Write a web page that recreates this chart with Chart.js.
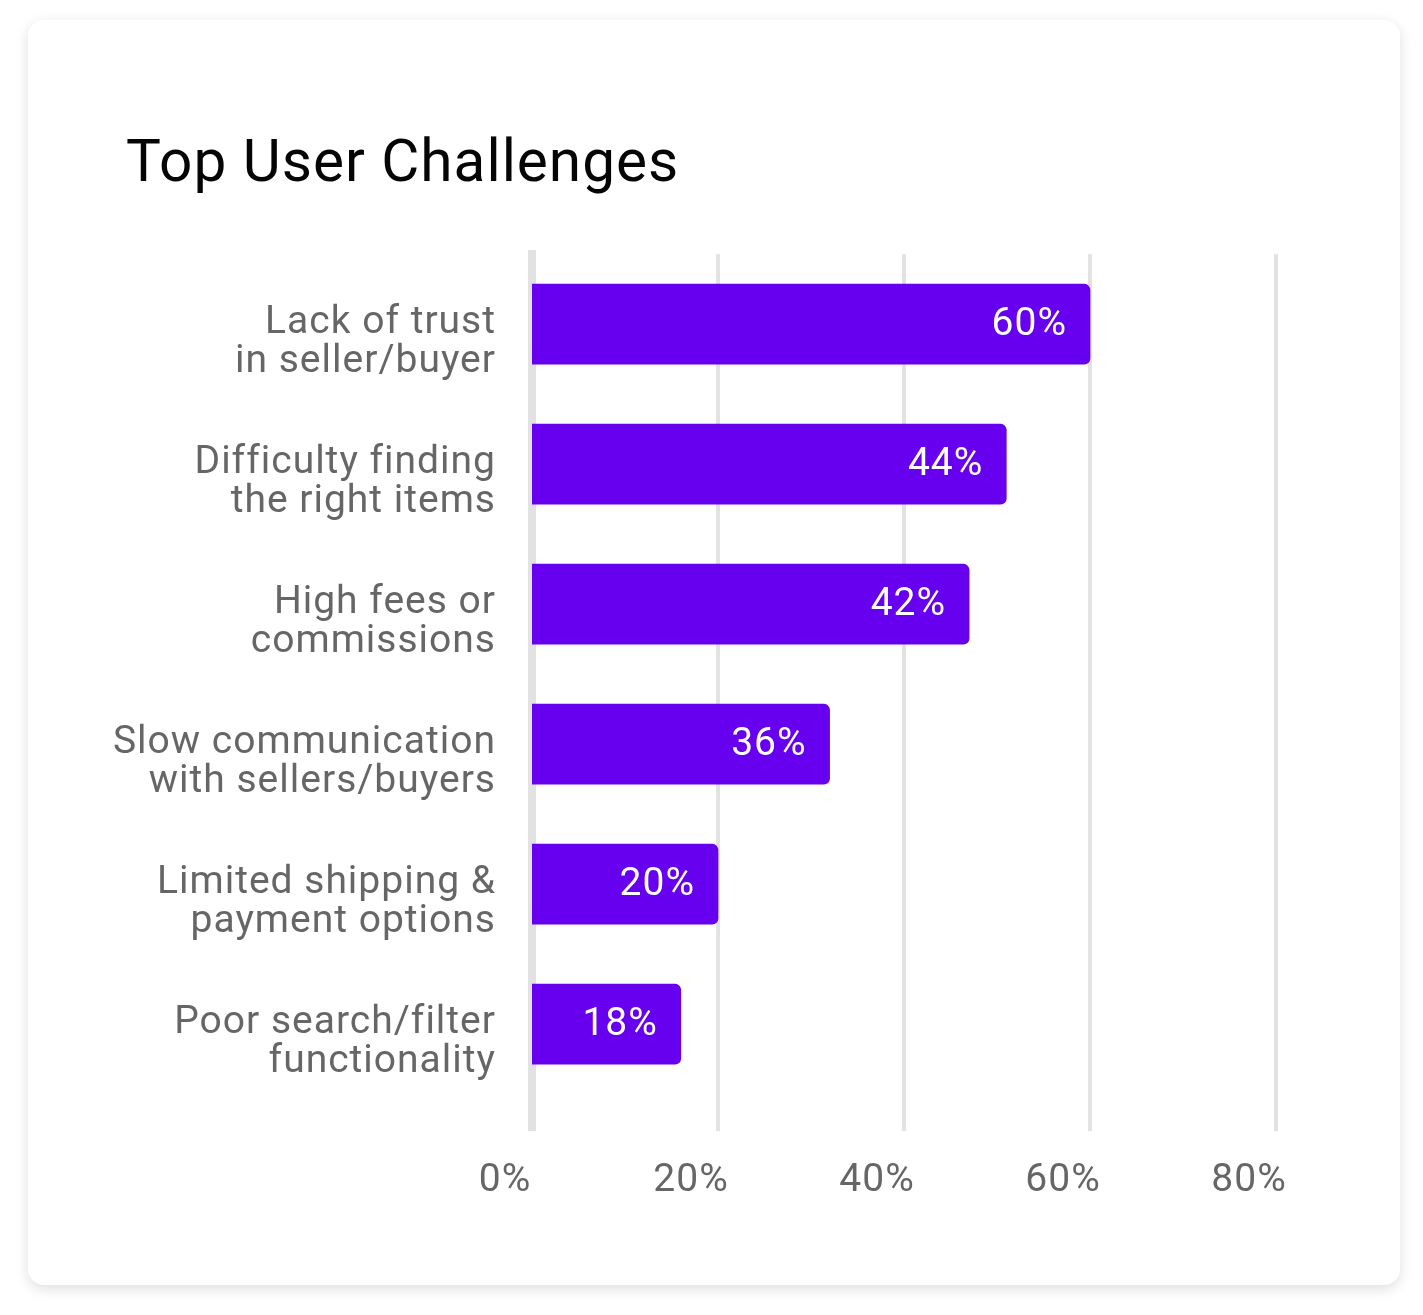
<!DOCTYPE html>
<html>
<head>
<meta charset="utf-8">
<script src="https://cdn.jsdelivr.net/npm/chart.js@4.4.1/dist/chart.umd.min.js"></script>
<style>
  html, body { margin: 0; padding: 0; background: #ffffff; }
  body { width: 1423px; height: 1315px; position: relative; overflow: hidden; }
  #card {
    position: absolute; left: 28px; top: 20px; width: 1372px; height: 1265px;
    background: #ffffff; border-radius: 16px;
    box-shadow: 0 4px 14px rgba(0,0,0,0.13);
  }
  #wrap { position: absolute; left: 0; top: 0; width: 1372px; height: 1265px; }
</style>
</head>
<body>
<div id="card"><div id="wrap"><canvas id="chart"></canvas></div></div>
<script>
const titleText = 'Top User Challenges';
const categories = [
  ['Lack of trust', 'in seller/buyer'],
  ['Difficulty finding', 'the right items'],
  ['High fees or', 'commissions'],
  ['Slow communication', 'with sellers/buyers'],
  ['Limited shipping &', 'payment options'],
  ['Poor search/filter', 'functionality']
];
// bar lengths as drawn in the picture (read against the axis)
const barValues = [60, 51, 47, 32, 20, 16];
// percentages printed on the bars
const shownPercents = [60, 44, 42, 36, 20, 18];
const xTicks = [0, 20, 40, 60, 80];

Chart.defaults.font.family = 'Roboto';

const spacing = {
  id: 'spacing',
  beforeUpdate(chart) { chart.ctx.letterSpacing = '1px'; },
  beforeLayout(chart) { chart.ctx.letterSpacing = '1px'; },
  afterLayout(chart) {
    // let the long category labels run left of the axis box without clipping
    const y = chart.scales.y;
    if (y) { y.left = 0; }
  },
  beforeDraw(chart) { chart.ctx.letterSpacing = '1px'; }
};

const barLabels = {
  id: 'barLabels',
  afterDatasetsDraw(chart) {
    const ctx = chart.ctx;
    const meta = chart.getDatasetMeta(0);
    ctx.save();
    ctx.letterSpacing = '1px';
    ctx.font = '400 39px Roboto';
    ctx.fillStyle = '#ffffff';
    ctx.textAlign = 'right';
    ctx.textBaseline = 'middle';
    meta.data.forEach((el, i) => {
      ctx.fillText(shownPercents[i] + '%', el.x - 23, el.y + 1);
    });
    ctx.restore();
  }
};

const gridGray = '#e2e2e2';

new Chart(document.getElementById('chart'), {
  type: 'bar',
  data: {
    labels: categories,
    datasets: [{
      data: barValues,
      backgroundColor: '#6600ee',
      borderRadius: 6,
      borderSkipped: 'start',
      barThickness: 80
    }]
  },
  options: {
    indexAxis: 'y',
    responsive: true,
    maintainAspectRatio: false,
    animation: false,
    layout: { padding: { left: 98, right: 124, top: 0, bottom: 53 } },
    plugins: {
      legend: { display: false },
      tooltip: { enabled: false },
      title: {
        display: true,
        text: titleText,
        align: 'start',
        color: '#050505',
        font: { family: 'Roboto', size: 58.5, weight: '400', lineHeight: 1.2 },
        padding: { top: 111, bottom: 53 }
      }
    },
    scales: {
      x: {
        type: 'linear',
        min: 0,
        max: 80,
        afterBuildTicks: (scale) => { scale.ticks = xTicks.map(v => ({ value: v })); },
        grid: {
          color: gridGray,
          lineWidth: (c) => (c.tick && c.tick.value === 0 ? 0 : 4),
          drawTicks: true,
          tickLength: 37,
          tickColor: gridGray,
          tickWidth: (c) => (c.tick && c.tick.value === 0 ? 8 : 4)
        },
        border: { display: false },
        ticks: {
          callback: (v) => v + '%',
          color: '#666666',
          font: { size: 39, weight: '400' },
          padding: 27,
          labelOffset: -27,
          maxRotation: 0
        }
      },
      y: {
        grid: { display: false, drawTicks: false },
        border: { display: true, width: 8, color: gridGray },
        afterFit: (scale) => { scale.width = 406; },
        ticks: {
          color: '#666666',
          font: { size: 39, weight: '400', lineHeight: 39.5 / 39 },
          padding: 36,
          labelOffset: 18.5,
          crossAlign: 'near'
        }
      }
    }
  },
  plugins: [spacing, barLabels]
});
</script>
</body>
</html>
